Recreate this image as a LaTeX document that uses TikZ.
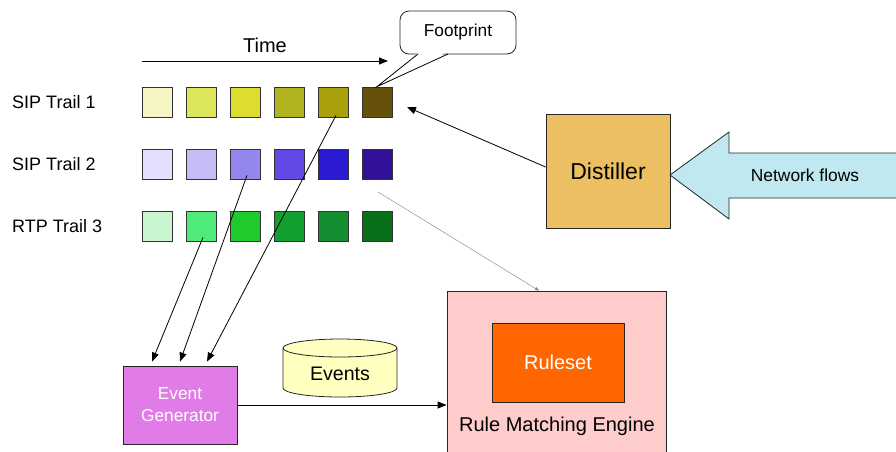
\documentclass[tikz,border=0pt]{standalone}
\usepackage{fontspec}
\setmainfont{Liberation Sans}
\usetikzlibrary{arrows.meta,calc}

% trail colours: yellow, blue, green
\definecolor{ya}{HTML}{F5F5C3}\definecolor{yb}{HTML}{DEE65E}\definecolor{yc}{HTML}{DCDD2E}
\definecolor{yd}{HTML}{B0B41F}\definecolor{ye}{HTML}{A8A10C}\definecolor{yf}{HTML}{66510A}
\definecolor{ba}{HTML}{E3DFFD}\definecolor{bb}{HTML}{C4BDF5}\definecolor{bc}{HTML}{9387EE}
\definecolor{bd}{HTML}{6149E6}\definecolor{be}{HTML}{2A1AD1}\definecolor{bf}{HTML}{331098}
\definecolor{ga}{HTML}{C9F6D1}\definecolor{gb}{HTML}{4FEA78}\definecolor{gc}{HTML}{1ECA2C}
\definecolor{gd}{HTML}{119F30}\definecolor{ge}{HTML}{148D30}\definecolor{gf}{HTML}{087018}
\definecolor{distfill}{HTML}{EDBF63}
\definecolor{flowfill}{HTML}{C0E8F0}
\definecolor{rmefill}{HTML}{FFCCCC}
\definecolor{rulefill}{HTML}{FF6600}
\definecolor{egfill}{HTML}{E07BE8}
\definecolor{evfill}{HTML}{FFFFC0}

\tikzset{
  sq/.style={draw=black!80, line width=0.8pt, minimum width=30, minimum height=30, inner sep=0pt},
  trail/.style={anchor=west, inner sep=0pt, font=\fontsize{18}{21}\selectfont},
  box/.style={draw=black!85, line width=0.8pt, inner sep=0pt},
  conn/.style={line width=0.8pt, -{Triangle[length=9pt,width=7pt]}},
  faint/.style={gray, line width=0.4pt, -{Triangle[length=4pt,width=3pt]}},
}

\begin{document}
\begin{tikzpicture}[x=1pt,y=-1pt]
\useasboundingbox (0,0) rectangle (896,451);

% time axis
\node[font=\fontsize{20}{24}\selectfont] (time) at (265,45) {Time};
\coordinate (t0) at (142,61);
\coordinate (t1) at (388,61);
\draw[conn] (t0) -- (t1);

% trail labels
\node[trail] (l1) at (12,102) {SIP Trail 1};
\node[trail] (l2) at (12,164) {SIP Trail 2};
\node[trail] (l3) at (12,226) {RTP Trail 3};

% footprint squares
\foreach \c [count=\i] in {ya,yb,yc,yd,ye,yf}
  \node[sq, fill=\c] (s1\i) at ({157+44*(\i-1)},102) {};
\foreach \c [count=\i] in {ba,bb,bc,bd,be,bf}
  \node[sq, fill=\c] (s2\i) at ({157+44*(\i-1)},164) {};
\foreach \c [count=\i] in {ga,gb,gc,gd,ge,gf}
  \node[sq, fill=\c] (s3\i) at ({157+44*(\i-1)},226) {};

% footprint callout
\node[draw=black!85, line width=0.8pt, fill=white, rounded corners=9pt,
      minimum width=116, minimum height=43,
      font=\fontsize{17.3}{20}\selectfont] (fp) at (458,32.5) {Footprint};
\fill[white] (419,52) -- (s16.north) -- (447,52) -- cycle;
\draw[line width=0.8pt] (418,54) -- (s16.north) -- (448,54);

% distiller
\node[box, fill=distfill, minimum width=124, minimum height=114,
      font=\fontsize{23}{27}\selectfont] (dist) at (608,171) {Distiller};

% network flows block arrow
\fill[flowfill] (670,175) -- (729,132) -- (729,153) -- (900,153)
  -- (900,198) -- (729,198) -- (729,219) -- cycle;
\draw[line width=0.8pt, black!85] (900,153) -- (729,153) -- (729,132) -- (670,175)
  -- (729,219) -- (729,198) -- (900,198);
\node[font=\fontsize{17.4}{20}\selectfont] (flows) at (805,175) {Network flows};

\coordinate (dtip) at (407,107);
\draw[conn] ($(dist.west)+(0,-4)$) -- (dtip);

% rule matching engine
\node[box, fill=rmefill, minimum width=219, minimum height=175] (rme) at (556.5,378.5) {};
\node[box, fill=rulefill, minimum width=132, minimum height=79,
      text=white, font=\fontsize{20}{24}\selectfont] (rules) at (558,362.5) {Ruleset};
\node[font=\fontsize{20}{24}\selectfont] (rmelabel) at (557,426) {Rule Matching Engine};

\coordinate (gstart) at (378,192);
\draw[faint] (gstart) -- ($(rme.north)+(-17.5,0)$);

% event generator
\node[box, fill=egfill, minimum width=114, minimum height=78, text=white, align=center,
      font=\fontsize{17.3}{22}\selectfont] (eg) at (180,405) {Event\\Generator};

\draw[conn] ($(s32.south)+(2,-4)$) -- ($(eg.north)+(-28,-4)$);
\draw[conn] ($(s23.south)+(2,-4)$) -- ($(eg.north)+(0,-4)$);
\draw[conn] ($(s15.south)+(3,-2)$) -- ($(eg.north)+(27,-4)$);

% events store
\filldraw[fill=evfill, draw=black!85, line width=0.8pt]
  (283,348) -- (283,388) arc[start angle=180, end angle=360, x radius=57pt, y radius=9pt]
  -- (397,348) arc[start angle=0, end angle=180, x radius=57pt, y radius=9pt] -- cycle;
\draw[black!85, line width=0.8pt]
  (283,348) arc[start angle=180, end angle=360, x radius=57pt, y radius=9pt];
\node[font=\fontsize{19.6}{23}\selectfont] (events) at (340,374) {Events};

\draw[conn] (eg.east) -- (eg.east -| rme.west);
\end{tikzpicture}
\end{document}
